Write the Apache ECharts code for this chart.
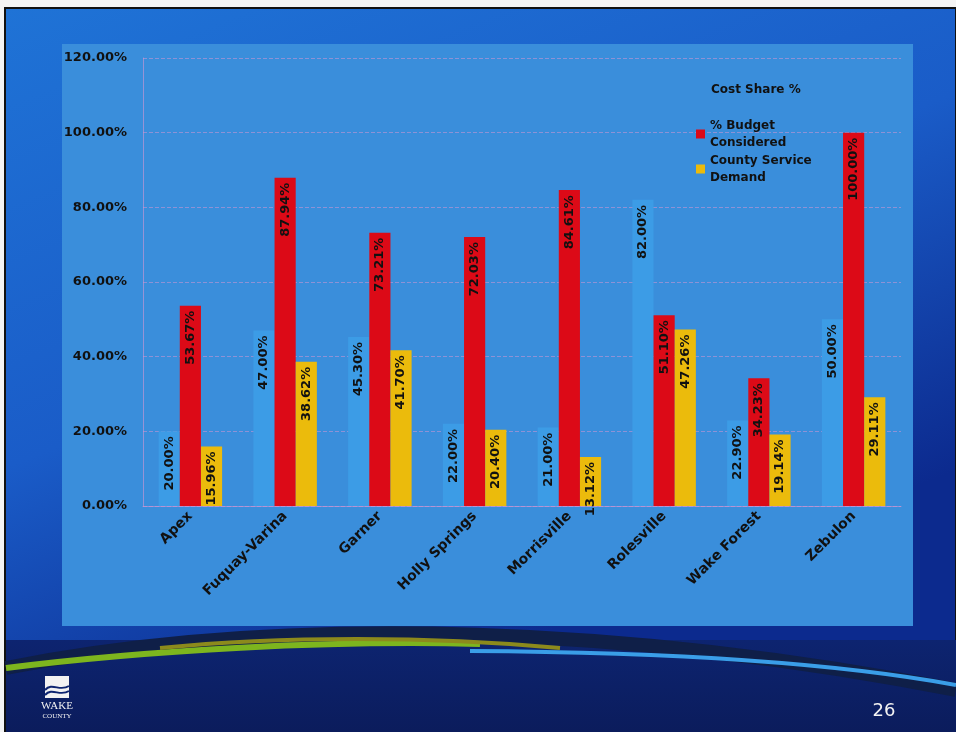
<!DOCTYPE html>
<html>
<head>
<meta charset="utf-8">
<script src="https://cdn.jsdelivr.net/npm/echarts@6/dist/echarts.min.js"></script>
<style>
  html, body { margin: 0; padding: 0; background: #f4f4f4; }
  #main { width: 956px; height: 732px; }
</style>
</head>
<body>
<div id="main"></div>
<script>
// towns along the axis
var towns = ['Apex', 'Fuquay-Varina', 'Garner', 'Holly Springs', 'Morrisville', 'Rolesville', 'Wake Forest', 'Zebulon'];
var costShare = [20.00, 47.00, 45.30, 22.00, 21.00, 82.00, 22.90, 50.00];
var budgetConsidered = [53.67, 87.94, 73.21, 72.03, 84.61, 51.10, 34.23, 100.00];
var serviceDemand = [15.96, 38.62, 41.70, 20.40, 13.12, 47.26, 19.14, 29.11];
var seriesNames = ['Cost Share %', '% Budget\nConsidered', 'County Service\nDemand'];

var myChart = echarts.init(document.getElementById('main'));
var font = '"DejaVu Sans", sans-serif';

function pct(v) { return v.toFixed(2) + '%'; }

function barLabel() {
    return {
        show: true,
        position: 'insideTop',
        rotate: 90,
        align: 'right',
        verticalAlign: 'middle',
        distance: 5,
        color: '#111',
        fontWeight: 'bold',
        fontSize: 13,
        fontFamily: font,
        formatter: function (p) { return pct(p.value); }
    };
}

var option = {
    backgroundColor: '#f4f4f4',
    animation: false,
    graphic: [
        // slide body
        { type: 'rect', z: -20, shape: { x: 5, y: 8, width: 951, height: 724 },
          style: { fill: new echarts.graphic.LinearGradient(0, 0, 0.3, 1, [
              { offset: 0, color: '#1f73d6' }, { offset: 0.55, color: '#1a5cc8' }, { offset: 1, color: '#0c2a8e' }]),
              stroke: '#111', lineWidth: 2 } },
        // chart panel
        { type: 'rect', z: -19, shape: { x: 62, y: 44, width: 851, height: 582 },
          style: { fill: '#3a8edb' } },
        // bottom navy band
        { type: 'rect', z: -18, shape: { x: 6, y: 640, width: 950, height: 92 },
          style: { fill: new echarts.graphic.LinearGradient(0, 0, 0, 1, [
              { offset: 0, color: '#0d2470' }, { offset: 1, color: '#0b1c5c' }]) } },
        { type: 'bezierCurve', z: -17, shape: { x1: 6, y1: 668, x2: 956, y2: 690, cpx1: 300, cpy1: 610, cpx2: 650, cpy2: 630 },
          style: { stroke: '#0f1f48', lineWidth: 14, fill: null } },
        { type: 'bezierCurve', z: -16, shape: { x1: 6, y1: 668, x2: 480, y2: 644, cpx1: 150, cpy1: 650, cpx2: 330, cpy2: 640 },
          style: { stroke: '#7db51e', lineWidth: 6, fill: null } },
        { type: 'bezierCurve', z: -16, shape: { x1: 160, y1: 648, x2: 560, y2: 648, cpx1: 280, cpy1: 636, cpx2: 430, cpy2: 636 },
          style: { stroke: '#8c8a1c', lineWidth: 4, fill: null } },
        { type: 'bezierCurve', z: -16, shape: { x1: 470, y1: 651, x2: 956, y2: 685, cpx1: 650, cpy1: 652, cpx2: 820, cpy2: 660 },
          style: { stroke: '#3a9ee8', lineWidth: 4, fill: null } },
        // county logo
        { type: 'rect', z: -15, shape: { x: 45, y: 676, width: 24, height: 22 }, style: { fill: '#f2f2f2' } },
        { type: 'bezierCurve', z: -14, shape: { x1: 45, y1: 690, x2: 69, y2: 686, cpx1: 52, cpy1: 682, cpx2: 60, cpy2: 692 },
          style: { stroke: '#0d2470', lineWidth: 2, fill: null } },
        { type: 'bezierCurve', z: -14, shape: { x1: 45, y1: 695, x2: 69, y2: 691, cpx1: 52, cpy1: 687, cpx2: 60, cpy2: 697 },
          style: { stroke: '#0d2470', lineWidth: 2, fill: null } },
        { type: 'text', z: -14, style: { x: 57, y: 701, text: 'WAKE', fill: '#f2f2f2', font: '11px "Liberation Serif", serif', align: 'center' } },
        { type: 'text', z: -14, style: { x: 57, y: 713, text: 'COUNTY', fill: '#f2f2f2', font: '7px "Liberation Serif", serif', align: 'center' } },
        { type: 'text', z: -14, style: { x: 884, y: 702, text: '26', fill: '#f2f2f2', font: '18px "DejaVu Sans", sans-serif', align: 'center' } }
    ],
    title: {
        text: seriesNames[0],
        left: 706,
        top: 79,
        textStyle: { color: '#111', fontWeight: 'bold', fontSize: 12, fontFamily: font }
    },
    legend: {
        orient: 'vertical',
        left: 691,
        top: 112,
        itemWidth: 9,
        itemHeight: 9,
        itemGap: 1,
        icon: 'rect',
        data: [seriesNames[1], seriesNames[2]],
        textStyle: { color: '#111', fontWeight: 'bold', fontSize: 12, fontFamily: font, lineHeight: 17 }
    },
    grid: { left: 143, right: 55, top: 58, bottom: 226 },
    xAxis: {
        type: 'category',
        data: towns,
        axisLine: { lineStyle: { color: 'rgba(210,150,210,0.6)' } },
        axisTick: { show: false },
        axisLabel: {
            rotate: 45,
            interval: 0,
            margin: 8,
            color: '#111',
            fontWeight: 'bold',
            fontSize: 14,
            fontFamily: font
        }
    },
    yAxis: {
        type: 'value',
        min: 0,
        max: 120,
        interval: 20,
        axisLine: { show: true, lineStyle: { color: 'rgba(210,150,210,0.6)' } },
        axisTick: { show: false },
        splitLine: { lineStyle: { color: 'rgba(210,150,210,0.55)', type: 'dashed' } },
        axisLabel: {
            margin: 16,
            color: '#111',
            fontWeight: 'bold',
            fontSize: 13,
            fontFamily: font,
            formatter: function (v) { return pct(v); }
        }
    },
    series: [
        { name: seriesNames[0], type: 'bar', data: costShare, barGap: '0%', barCategoryGap: '33%',
          itemStyle: { color: '#3c9ce6' }, label: barLabel() },
        { name: seriesNames[1], type: 'bar', data: budgetConsidered,
          itemStyle: { color: '#dc0a17' }, label: barLabel() },
        { name: seriesNames[2], type: 'bar', data: serviceDemand,
          itemStyle: { color: '#ebbb0c' }, label: barLabel() }
    ]
};

myChart.setOption(option);
</script>
</body>
</html>
